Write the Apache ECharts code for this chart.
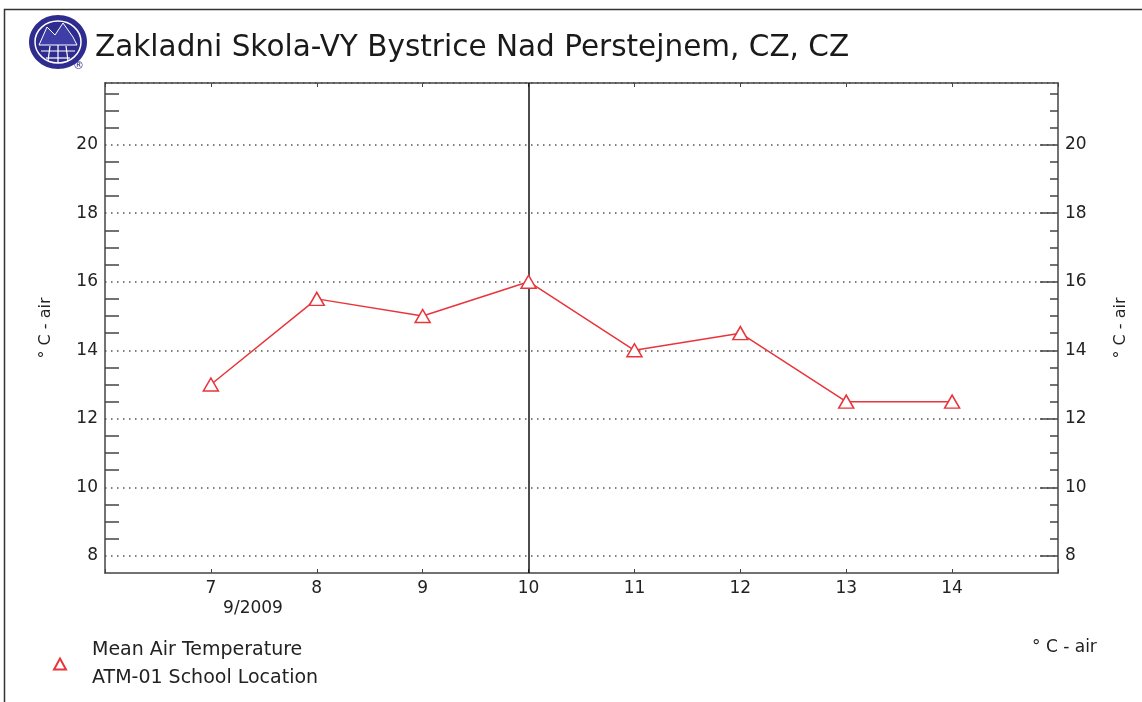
<!DOCTYPE html>
<html>
<head>
<meta charset="utf-8">
<script src="https://cdn.jsdelivr.net/npm/echarts@6/dist/echarts.min.js"></script>
<style>
  html, body { margin: 0; padding: 0; background: #fff; }
</style>
</head>
<body>
<div id="main" style="width:1142px;height:702px;"></div>
<script type="text/javascript">
// data (September 2009)
var days = [7, 8, 9, 10, 11, 12, 13, 14];
var meanAirTemp = [13, 15.5, 15, 16, 14, 14.5, 12.5, 12.5];
var markerDay = 10;

// tick labels
var dayLabels = [7, 8, 9, 10, 11, 12, 13, 14];
var tempLabels = [8, 10, 12, 14, 16, 18, 20];
var tempMinorTicks = [8.5, 9, 9.5, 10.5, 11, 11.5, 12.5, 13, 13.5, 14.5, 15, 15.5,
                      16.5, 17, 17.5, 18.5, 19, 19.5, 20.5, 21, 21.5];
var tempAllTicks = [8, 8.5, 9, 9.5, 10, 10.5, 11, 11.5, 12, 12.5, 13, 13.5, 14, 14.5,
                    15, 15.5, 16, 16.5, 17, 17.5, 18, 18.5, 19, 19.5, 20, 20.5, 21, 21.5];

var FONT = "'DejaVu Sans', 'Liberation Sans', Arial, sans-serif";
var AXIS = '#444';
var RED = '#e8353b';

var myChart = echarts.init(document.getElementById('main'));

var points = days.map(function (d, i) { return [d, meanAirTemp[i]]; });

var yBase = { type: 'value', min: 7.5, max: 21.8, interval: 0.5, scale: true };

var option = {
    backgroundColor: '#fff',
    animation: false,
    title: {
        text: 'Zakladni Skola-VY Bystrice Nad Perstejnem, CZ, CZ',
        left: 90, top: 28,
        textStyle: { fontFamily: FONT, fontSize: 29.5, fontWeight: 'normal', color: '#1a1a1a' }
    },
    legend: {
        data: ['Mean Air Temperature'],
        left: 48, top: 631,
        icon: 'triangle',
        itemWidth: 12, itemHeight: 11,
        formatter: function (name) { return name + '\nATM-01 School Location'; },
        textStyle: { fontFamily: FONT, fontSize: 19, lineHeight: 28, color: '#222', padding: [0, 0, 0, 21] }
    },
    grid: { left: 105, right: 84, top: 83, bottom: 129, containLabel: false },
    xAxis: [{
        type: 'value', min: 6, max: 15, interval: 1, position: 'bottom',
        axisLine: { lineStyle: { color: AXIS, width: 1.5 } },
        axisTick: { inside: true, length: 4, lineStyle: { color: AXIS } },
        axisLabel: {
            customValues: dayLabels,
            margin: 6,
            fontFamily: FONT, fontSize: 17, color: '#222', lineHeight: 20,
            formatter: function (v) {
                return v === 7 ? '{n|7}\n{d|9/2009}' : String(v);
            },
            rich: {
                n: { width: 144, align: 'center', fontFamily: FONT, fontSize: 17, color: '#222', lineHeight: 20 },
                d: { width: 144, align: 'right', fontFamily: FONT, fontSize: 17, color: '#222', lineHeight: 20 }
            }
        },
        splitLine: { show: false }
    }, {
        type: 'value', min: 6, max: 15, interval: 1, position: 'top',
        axisLine: { lineStyle: { color: AXIS, width: 1.5 } },
        axisTick: { inside: true, length: 4, lineStyle: { color: AXIS } },
        axisLabel: { show: false },
        splitLine: { show: false }
    }],
    yAxis: [
        Object.assign({}, yBase, {
            position: 'left',
            name: '° C - air', nameLocation: 'middle', nameRotate: 90, nameGap: 51,
            nameTextStyle: { fontFamily: FONT, fontSize: 16, color: '#222' },
            axisLine: { show: true, lineStyle: { color: AXIS, width: 1.5 } },
            axisTick: { show: true, inside: true, length: 14, customValues: tempMinorTicks,
                        lineStyle: { color: AXIS, width: 1.5 } },
            axisLabel: { customValues: tempLabels, margin: 7, fontFamily: FONT, fontSize: 17, color: '#222' },
            splitLine: { show: false }
        }),
        Object.assign({}, yBase, {
            position: 'right',
            name: '° C - air', nameLocation: 'middle', nameRotate: 90, nameGap: 55,
            nameTextStyle: { fontFamily: FONT, fontSize: 16, color: '#222' },
            axisLine: { show: true, lineStyle: { color: AXIS, width: 1.5 } },
            axisTick: { show: true, inside: true, length: 8, customValues: tempAllTicks,
                        lineStyle: { color: AXIS, width: 1.5 } },
            axisLabel: { customValues: tempLabels, margin: 7, fontFamily: FONT, fontSize: 17, color: '#222' },
            splitLine: { show: false }
        }),
        Object.assign({}, yBase, {
            position: 'right',
            axisLine: { show: false },
            axisTick: { show: true, inside: true, length: 18, customValues: tempLabels,
                        lineStyle: { color: AXIS, width: 1.5 } },
            axisLabel: { show: false },
            splitLine: { show: false }
        }),
        // dotted grid lines at the labelled values only
        Object.assign({}, yBase, {
            position: 'left',
            axisLine: { show: false },
            axisTick: { show: false },
            axisLabel: { show: false },
            splitLine: {
                show: true,
                lineStyle: {
                    color: ['rgba(0,0,0,0)', '#555', 'rgba(0,0,0,0)', 'rgba(0,0,0,0)'],
                    width: 1.5, type: [1.5, 4.5]
                }
            }
        })
    ],
    series: [{
        name: 'Mean Air Temperature',
        type: 'line',
        xAxisIndex: 0, yAxisIndex: 0,
        data: points,
        symbol: 'triangle',
        symbolSize: [15, 13],
        z: 5,
        itemStyle: { color: '#fff', borderColor: RED, borderWidth: 1.5 },
        lineStyle: { color: RED, width: 1.5 },
        markLine: {
            silent: true,
            symbol: 'none',
            label: { show: false },
            lineStyle: { color: '#111', width: 1.5, type: 'solid' },
            data: [{ xAxis: markerDay }]
        }
    }],
    graphic: [
        // outer frame
        { type: 'rect', shape: { x: 4.5, y: 9.5, width: 1300, height: 900 },
          style: { fill: 'none', stroke: '#333', lineWidth: 1.5 }, silent: true },
        // logo
        { type: 'group', left: 29, top: 15, children: [
            { type: 'ellipse', shape: { cx: 29, cy: 27, rx: 29, ry: 27 }, style: { fill: '#2e2d8f' } },
            { type: 'ellipse', shape: { cx: 29, cy: 27, rx: 23, ry: 21 }, style: { fill: 'none', stroke: '#fff', lineWidth: 1.5 } },
            { type: 'polygon', shape: { points: [[10, 30], [18, 12], [26, 20], [34, 8], [44, 22], [48, 30]] },
              style: { fill: '#3f3ea6', stroke: '#fff', lineWidth: 1 } },
            { type: 'line', shape: { x1: 12, y1: 36, x2: 46, y2: 36 }, style: { stroke: '#fff', lineWidth: 1.2 } },
            { type: 'line', shape: { x1: 17, y1: 43, x2: 41, y2: 43 }, style: { stroke: '#fff', lineWidth: 1.2 } },
            { type: 'line', shape: { x1: 29, y1: 30, x2: 29, y2: 48 }, style: { stroke: '#fff', lineWidth: 1.2 } },
            { type: 'line', shape: { x1: 21, y1: 31, x2: 19, y2: 46 }, style: { stroke: '#fff', lineWidth: 1.2 } },
            { type: 'line', shape: { x1: 37, y1: 31, x2: 39, y2: 46 }, style: { stroke: '#fff', lineWidth: 1.2 } }
        ]},
        { type: 'text', left: 73, top: 61, style: { text: '®', fontFamily: FONT, fontSize: 11, fill: '#2e2d8f' } },
        // unit note bottom right
        { type: 'text', left: 1032, top: 639,
          style: { text: '° C - air', fontFamily: FONT, fontSize: 17, fill: '#222' } }
    ]
};

myChart.setOption(option);
</script>
</body>
</html>
